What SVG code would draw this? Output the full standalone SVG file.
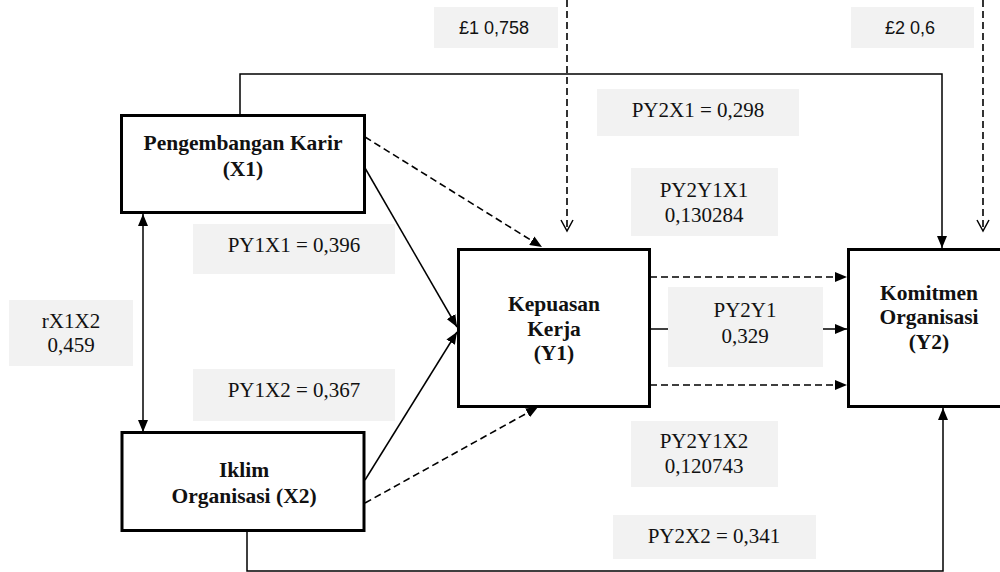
<svg xmlns="http://www.w3.org/2000/svg" width="1000" height="572" viewBox="0 0 1000 572">
<style>
.box{fill:#ffffff;stroke:#000;stroke-width:3}
.lbl{fill:#f2f2f2;stroke:none}
.t{font-family:"Liberation Serif","Times New Roman",serif;font-size:21px;fill:#111;text-anchor:middle}
.b{font-weight:bold;font-size:21.5px}
.s{font-family:"Liberation Sans",Arial,sans-serif;font-size:18px;fill:#111;text-anchor:middle}
.ln{fill:none;stroke:#000;stroke-width:1.5}
.dl{fill:none;stroke:#000;stroke-width:1.6;stroke-dasharray:7 4}
</style>
<defs>
<marker id="fa" markerUnits="userSpaceOnUse" markerWidth="12" markerHeight="10" refX="12" refY="5" orient="auto-start-reverse" viewBox="0 0 12 10">
<path d="M0,0 L12,5 L0,10 Z" fill="#000"/>
</marker>
<marker id="oa" markerUnits="userSpaceOnUse" markerWidth="14" markerHeight="14" refX="12" refY="7" orient="auto" viewBox="0 0 14 14">
<path d="M1,1 L12,7 L1,13" fill="none" stroke="#000" stroke-width="1.5"/>
</marker>
</defs>

<g id="labels">
<g id="lbl-e1"><rect class="lbl" x="434" y="7" width="124" height="41"/><text class="s" x="494" y="34">£1 0,758</text></g>
<g id="lbl-e2"><rect class="lbl" x="851" y="7" width="123" height="41"/><text class="s" x="910" y="34">£2 0,6</text></g>
<g id="lbl-py2x1"><rect class="lbl" x="597" y="89" width="202" height="47"/><text class="t" x="698" y="117">PY2X1 = 0,298</text></g>
<g id="lbl-py2y1x1"><rect class="lbl" x="631" y="168" width="147" height="68"/><text class="t" x="704" y="197">PY2Y1X1</text><text class="t" x="704" y="222">0,130284</text></g>
<g id="lbl-py1x1"><rect class="lbl" x="193" y="224" width="202" height="50"/><text class="t" x="294" y="252">PY1X1 = 0,396</text></g>
<g id="lbl-rx1x2"><rect class="lbl" x="9" y="300" width="124" height="66"/><text class="t" x="71" y="328">rX1X2</text><text class="t" x="71" y="352">0,459</text></g>
<g id="lbl-py2y1"><rect class="lbl" x="668" y="287" width="155" height="80"/><text class="t" x="745" y="317">PY2Y1</text><text class="t" x="745" y="343">0,329</text></g>
<g id="lbl-py1x2"><rect class="lbl" x="193" y="369" width="202" height="52"/><text class="t" x="294" y="397">PY1X2 = 0,367</text></g>
<g id="lbl-py2y1x2"><rect class="lbl" x="631" y="421" width="147" height="66"/><text class="t" x="704" y="448">PY2Y1X2</text><text class="t" x="704" y="473">0,120743</text></g>
<g id="lbl-py2x2"><rect class="lbl" x="613" y="515" width="203" height="44"/><text class="t" x="714" y="543">PY2X2 = 0,341</text></g>
</g>

<g id="connectors">
<path class="dl" d="M567,0 V231" marker-end="url(#oa)"/>
<path class="dl" d="M983,0 V231" marker-end="url(#oa)"/>
<path class="ln" d="M240,116 V74 H942 V248" marker-end="url(#fa)"/>
<path class="ln" d="M247,531 V571 H943 V408" marker-end="url(#fa)"/>
<path class="ln" d="M143,214 V432" marker-start="url(#fa)" marker-end="url(#fa)"/>
<path class="ln" d="M365,168 L457,327" marker-end="url(#fa)"/>
<path class="ln" d="M365,480 L457,332" marker-end="url(#fa)"/>
<path class="dl" d="M365,137 L542,247" marker-end="url(#fa)"/>
<path class="dl" d="M365,503 L538,407" marker-end="url(#fa)"/>
<path class="dl" d="M650,277 H847" marker-end="url(#fa)"/>
<path class="ln" d="M650,329 H668"/>
<path class="ln" d="M823,329 H847" marker-end="url(#fa)"/>
<path class="dl" d="M650,385 H847" marker-end="url(#fa)"/>
</g>

<g id="node-x1"><rect class="box" x="121.5" y="115.5" width="243" height="97"/><text class="t b" x="243" y="150">Pengembangan Karir</text><text class="t b" x="243" y="176">(X1)</text></g>
<g id="node-x2"><rect class="box" x="122" y="432.5" width="242" height="98"/><text class="t b" x="244" y="477">Iklim</text><text class="t b" x="244" y="503">Organisasi (X2)</text></g>
<g id="node-y1"><rect class="box" x="458.5" y="249.5" width="191" height="157"/><text class="t b" x="554" y="311">Kepuasan</text><text class="t b" x="554" y="335.5">Kerja</text><text class="t b" x="554" y="360">(Y1)</text></g>
<g id="node-y2"><rect class="box" x="848.5" y="249.5" width="162" height="157"/><text class="t b" x="929" y="300">Komitmen</text><text class="t b" x="929" y="324">Organisasi</text><text class="t b" x="929" y="349">(Y2)</text></g>
</svg>
